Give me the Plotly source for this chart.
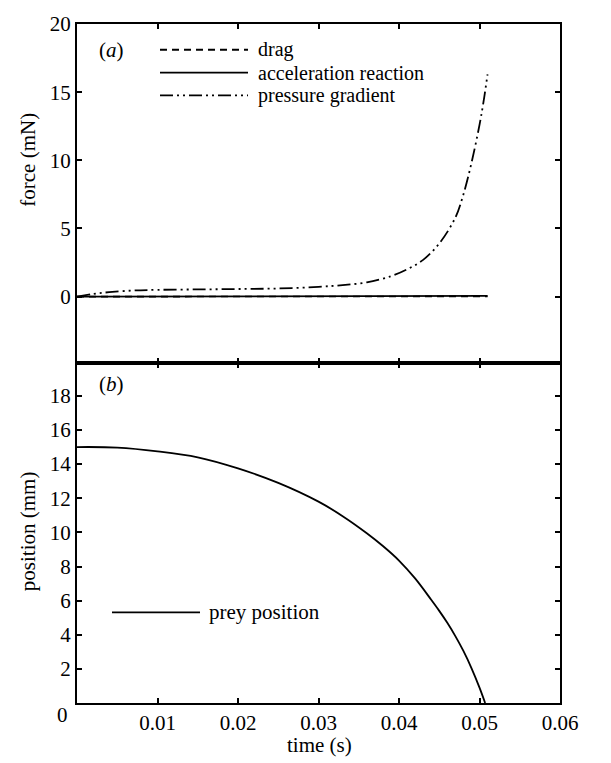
import plotly.graph_objects as go

# ---- panel (a): forces on the prey (mN) vs time (s) ----
time_force = [0, 0.002, 0.004, 0.007, 0.010, 0.015, 0.020, 0.025, 0.030, 0.033,
              0.036, 0.039, 0.041, 0.043, 0.045, 0.047, 0.048, 0.049, 0.050,
              0.0505, 0.051]
pressure_gradient = [0, 0.20, 0.33, 0.45, 0.50, 0.53, 0.56, 0.60, 0.72, 0.85,
                     1.05, 1.50, 2.00, 2.70, 3.90, 5.80, 7.50, 9.80, 12.6,
                     14.3, 16.3]
acceleration_reaction = [0, 0, 0, 0, 0, 0, 0, 0, 0, 0,
                         0, 0, 0, 0, 0.01, 0.01, 0.02, 0.02, 0.03,
                         0.04, 0.05]
drag = [0, 0, 0, 0, 0, 0, 0, 0, 0, 0,
        0, 0, 0, 0, 0, 0, 0, 0, 0.01,
        0.01, 0.02]

# ---- panel (b): prey position (mm) vs time (s) ----
time_prey = [0, 0.005, 0.010, 0.015, 0.020, 0.025, 0.030, 0.033, 0.036, 0.038,
             0.040, 0.042, 0.044, 0.045, 0.046, 0.047, 0.048, 0.049, 0.050,
             0.0507]
prey_position = [15.0, 14.97, 14.75, 14.4, 13.75, 12.9, 11.8, 10.95, 9.95, 9.2,
                 8.35, 7.3, 6.05, 5.4, 4.7, 3.92, 3.05, 2.05, 0.9,
                 0.0]

# ---- axis ticks ----
force_ticks = [0, 5, 10, 15, 20]
position_ticks = [2, 4, 6, 8, 10, 12, 14, 16, 18]
time_ticks = [0, 0.01, 0.02, 0.03, 0.04, 0.05, 0.06]
time_labels = ["", "0.01", "0.02", "0.03", "0.04", "0.05", "0.06"]

FONT = "Times New Roman, Liberation Serif, serif"
FS = 21
W, H = 611, 763
L, R, T, B = 77, 51, 18, 59.5
PW, PH = W - L - R, H - T - B


def px(x):
    return (x - L) / PW


def py(y):
    return (H - B - y) / PH


DASH_DRAG = "7px,5px"
DASH_PG = "13px,4px,2px,4px,2px,4px"

fig = go.Figure()
fig.add_trace(go.Scatter(x=time_force, y=drag, mode="lines", name="drag",
                         line=dict(color="black", width=1.6, dash=DASH_DRAG),
                         xaxis="x", yaxis="y"))
fig.add_trace(go.Scatter(x=time_force, y=acceleration_reaction, mode="lines",
                         name="acceleration reaction",
                         line=dict(color="black", width=1.8),
                         xaxis="x", yaxis="y"))
fig.add_trace(go.Scatter(x=time_force, y=pressure_gradient, mode="lines",
                         name="pressure gradient", line_shape="spline",
                         line=dict(color="black", width=1.8, dash=DASH_PG),
                         xaxis="x", yaxis="y"))
fig.add_trace(go.Scatter(x=time_prey, y=prey_position, mode="lines",
                         name="prey position", line_shape="spline",
                         line=dict(color="black", width=1.8),
                         xaxis="x2", yaxis="y2"))

axis_common = dict(showline=True, linecolor="black", linewidth=2,
                   mirror="allticks", ticks="inside", ticklen=5, tickwidth=1.5,
                   tickcolor="black", showgrid=False, zeroline=False,
                   tickfont=dict(family=FONT, size=FS, color="black"))

split = py(360.7)
fig.update_layout(
    width=W, height=H,
    margin=dict(l=L, r=R, t=T, b=B),
    paper_bgcolor="white", plot_bgcolor="white",
    showlegend=False,
    font=dict(family=FONT, size=FS, color="black"),
    xaxis=dict(axis_common, domain=[0, 1], anchor="y", range=[0, 0.06],
               tickvals=time_ticks, showticklabels=False),
    yaxis=dict(axis_common, domain=[split, 1], anchor="x", range=[-4.9, 20],
               tickvals=force_ticks),
    xaxis2=dict(axis_common, domain=[0, 1], anchor="y2", range=[0, 0.06],
                tickvals=time_ticks, ticktext=time_labels),
    yaxis2=dict(axis_common, domain=[0, split], anchor="x2", range=[0, 19.9],
                tickvals=position_ticks),
)

shapes = []
annotations = []


def text(s, x, y, xanchor="center", angle=0, size=FS):
    annotations.append(dict(text=s, x=px(x), y=py(y), xref="paper", yref="paper",
                            xanchor=xanchor, yanchor="middle", showarrow=False,
                            textangle=angle,
                            font=dict(family=FONT, size=size, color="black")))


def sample(x0, x1, y, dash, width=1.8):
    shapes.append(dict(type="line", xref="paper", yref="paper",
                       x0=px(x0), x1=px(x1), y0=py(y), y1=py(y),
                       line=dict(color="black", width=width, dash=dash)))


# panel labels
text("(<i>a</i>)", 111, 44)
text("(<i>b</i>)", 111, 381)

# key for panel (a)
legend_rows = [("drag", DASH_DRAG, 44), ("acceleration reaction", "solid", 67),
               ("pressure gradient", DASH_PG, 90)]
for label, dash, yy in legend_rows:
    sample(160, 248, yy, dash)
    text(label, 256, yy, xanchor="left", size=20)

# key for panel (b)
sample(112, 200, 612, "solid")
text("prey position", 207, 612, xanchor="left")

# axis titles and the origin label
text("force (mN)", 28, 155, angle=-90)
text("position (mm)", 28, 530, angle=-90)
text("time (s)", 319, 746)
text("0", 62, 716)

fig.update_layout(shapes=shapes, annotations=annotations)
fig.write_html("out.html")
